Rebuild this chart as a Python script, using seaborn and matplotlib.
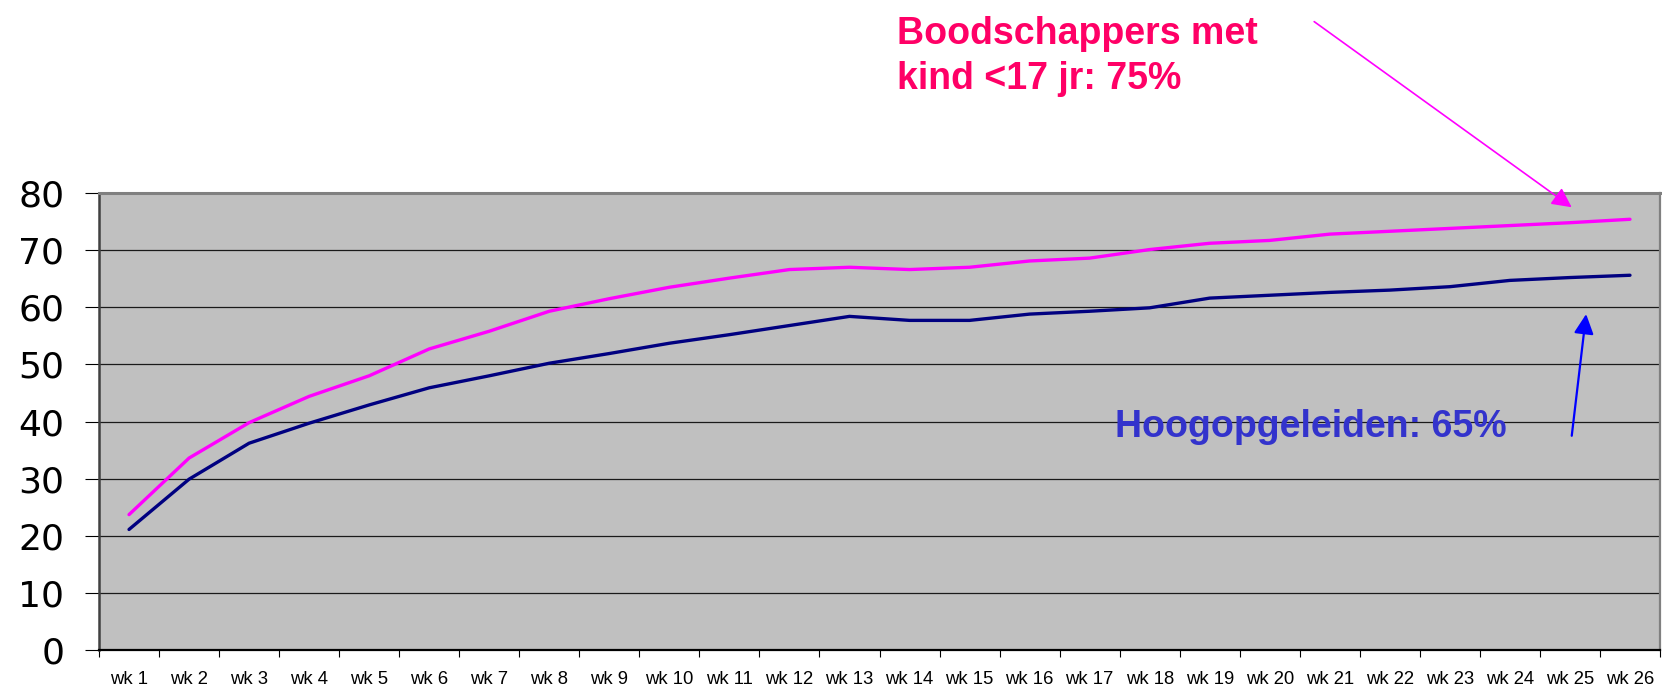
import numpy as np
import pandas as pd
import matplotlib
matplotlib.use("Agg")
import matplotlib.pyplot as plt
import seaborn as sns

# ---- data ----
weeks = [f"wk {i}" for i in range(1, 27)]
boodschappers = [23.7, 33.6, 39.8, 44.4, 48.0, 52.7, 55.8, 59.3, 61.5, 63.5,
                 65.1, 66.6, 67.0, 66.6, 67.0, 68.1, 68.6, 70.1, 71.2, 71.7,
                 72.8, 73.3, 73.8, 74.3, 74.8, 75.4]
hoogopgeleiden = [21.1, 29.9, 36.2, 39.7, 42.9, 45.9, 48.0, 50.2, 51.9, 53.7,
                  55.2, 56.8, 58.4, 57.7, 57.7, 58.8, 59.3, 59.9, 61.6, 62.1,
                  62.6, 63.0, 63.6, 64.7, 65.2, 65.6]
series_names = ["Boodschappers met kind <17 jr", "Hoogopgeleiden"]
label_boodschappers = "Boodschappers met\nkind <17 jr: 75%"
label_hoog = "Hoogopgeleiden: 65%"
y_ticks = [0, 10, 20, 30, 40, 50, 60, 70, 80]

df = pd.DataFrame({
    "pos": list(range(len(weeks))) * 2,
    "value": boodschappers + hoogopgeleiden,
    "series": [series_names[0]] * len(weeks) + [series_names[1]] * len(weeks),
})

sns.set_style("white")
plt.rcParams["font.family"] = ["Liberation Sans", "DejaVu Sans"]
plt.rcParams["xtick.color"] = "black"
plt.rcParams["ytick.color"] = "black"
plt.rcParams["xtick.labelcolor"] = "black"
plt.rcParams["ytick.labelcolor"] = "black"

W, H = 1662, 689
fig = plt.figure(figsize=(W / 100, H / 100), dpi=100)
ax = fig.add_axes([99 / W, 1 - 650 / H, (1660 - 99) / W, (650 - 193) / H])
ax.set_facecolor("#C0C0C0")

sns.lineplot(data=df, x="pos", y="value", hue="series",
             palette={series_names[0]: "#FF00FF", series_names[1]: "#000080"},
             linewidth=2.4, legend=False, estimator=None, ax=ax, zorder=3)

ax.set_xlim(-0.5, len(weeks) - 0.5)
ax.set_ylim(0, 80)
ax.set_xlabel("")
ax.set_ylabel("")

# y axis
ax.set_yticks(y_ticks)
ax.set_yticklabels([str(v) for v in y_ticks], fontsize=26, family="DejaVu Sans",
                   color="black")
ax.tick_params(axis="y", which="major", direction="out", length=10, width=0.8,
               color="black", pad=15, left=True)
for v in y_ticks[1:-1]:
    ax.axhline(v, color="#1a1a1a", lw=0.9, zorder=1)

# x axis: labels at centres, ticks at boundaries
ax.set_xticks(range(len(weeks)))
ax.set_xticklabels(weeks, fontsize=13.3, color="black")
ax.tick_params(axis="x", which="major", length=0, pad=15)
ax.set_xticks(np.arange(-0.5, len(weeks), 1.0), minor=True)
ax.tick_params(axis="x", which="minor", direction="out", length=5, width=0.8,
               color="black", bottom=True)

for side, col, lw in [("top", "#808080", 2.2), ("right", "#808080", 1.6),
                      ("left", "#404040", 1.8), ("bottom", "#000000", 1.6)]:
    ax.spines[side].set_visible(True)
    ax.spines[side].set_color(col)
    ax.spines[side].set_linewidth(lw)

# annotations
fig.text(897 / W, 1 - 89 / H, label_boodschappers, color="#FF0066",
         fontsize=27, fontweight="bold", ha="left", va="baseline",
         linespacing=1.33)
fig.text(1115 / W, 1 - 437 / H, label_hoog, color="#3333CC",
         fontsize=27, fontweight="bold", ha="left", va="baseline", zorder=4)

ax.annotate("", xy=(24.03, 77.5), xytext=(19.74, 110.0),
            xycoords="data", textcoords="data", annotation_clip=False,
            arrowprops=dict(arrowstyle="-|>", color="#FF00FF", lw=1.2,
                            mutation_scale=30, shrinkA=0, shrinkB=0))
ax.annotate("", xy=(24.27, 58.8), xytext=(24.03, 37.5),
            xycoords="data", textcoords="data", annotation_clip=False,
            arrowprops=dict(arrowstyle="-|>", color="#0000FF", lw=1.6,
                            mutation_scale=30, shrinkA=0, shrinkB=0))

fig.savefig("out.png", dpi=100)
